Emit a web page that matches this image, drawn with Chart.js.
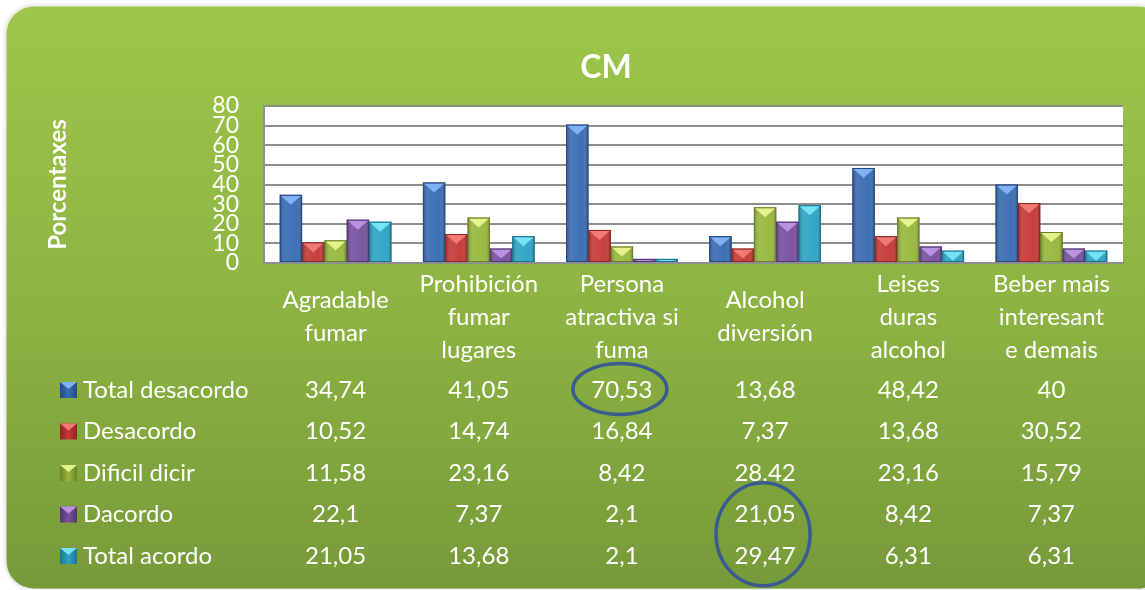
<!DOCTYPE html>
<html lang="gl">
<head>
<meta charset="UTF-8"/>
<title>CM</title>
<script src="https://cdn.jsdelivr.net/npm/chart.js"></script>
<style>
 html,body{margin:0;padding:0;background:#fff}
 #wrap{width:1145px;height:590px;position:relative}
</style>
</head>
<body>
<div id="wrap"><canvas id="chart"></canvas></div>

<script>
const categories=[['Agradable','fumar'],['Prohibición','fumar','lugares'],['Persona','atractiva si','fuma'],['Alcohol','diversión'],['Leises','duras','alcohol'],['Beber mais','interesant','e demais']];
const seriesNames=['Total desacordo','Desacordo','Dificil dicir','Dacordo','Total acordo'];
const totalDesacordo=[34.74,41.05,70.53,13.68,48.42,40];
const desacordo=[10.52,14.74,16.84,7.37,13.68,30.52];
const dificilDicir=[11.58,23.16,8.42,28.42,23.16,15.79];
const dacordo=[22.1,7.37,2.1,21.05,8.42,7.37];
const totalAcordo=[21.05,13.68,2.1,29.47,6.31,6.31];
const yMin=0, yMax=80, yStep=10;
// cells the source table writes with a dot instead of a comma [row,col]
const dotCells=[[2,3]];
// circled cells in the table: [firstRow,lastRow,col]
const circles=[[0,0,2],[3,4,3]];

const seriesValues=[totalDesacordo,desacordo,dificilDicir,dacordo,totalAcordo];
const colors=['#3b6db3','#c63b38','#98b83f','#77539d','#2ea5c4'];
const tops=['#7fb2f2','#f27a74','#e4f48a','#b993e2','#74e3f5'];
const darks=['#24497f','#8e2523','#6a8228','#4f3570','#1b7590'];

const FONT='Lato, "Open Sans", sans-serif';
const ROW0=390, ROWH=41.5;

const cardPlugin={
  id:'card',
  beforeDraw(chart){
    const c=chart.ctx, a=chart.chartArea;
    c.save();
    const g=c.createLinearGradient(0,6,0,590);
    g.addColorStop(0,'#9dc64a');
    g.addColorStop(0.5,'#8db443');
    g.addColorStop(1,'#769a39');
    c.shadowColor='rgba(0,0,0,0.25)';
    c.shadowBlur=4;
    c.beginPath();
    c.roundRect(6,6,1160,583,28);
    c.fillStyle=g;
    c.fill();
    c.shadowColor='transparent';
    c.strokeStyle='rgba(255,255,255,0.5)';
    c.lineWidth=1.5;
    c.stroke();
    c.fillStyle='#fff';
    c.fillRect(a.left,a.top,a.right-a.left,a.bottom-a.top);
    c.restore();
  },
  afterDatasetsDraw(chart){
    const c=chart.ctx;
    c.save();
    chart.data.datasets.forEach((ds,di)=>{
      chart.getDatasetMeta(di).data.forEach(bar=>{
        const w=bar.width, l=bar.x-w/2, t=bar.y, b=bar.base;
        const g=c.createLinearGradient(l,0,l+w,0);
        g.addColorStop(0,'rgba(0,0,0,0.25)');
        g.addColorStop(0.25,'rgba(255,255,255,0.08)');
        g.addColorStop(0.75,'rgba(255,255,255,0.02)');
        g.addColorStop(1,'rgba(0,0,0,0.3)');
        c.fillStyle=g;
        c.fillRect(l,t,w,b-t);
        const h=Math.min(w*0.45,b-t);
        c.beginPath();
        c.moveTo(l+1,t+1);c.lineTo(l+w-1,t+1);c.lineTo(bar.x,t+h);c.closePath();
        c.fillStyle=tops[di];
        c.fill();
        c.strokeStyle=darks[di];
        c.lineWidth=1;
        c.strokeRect(l+0.5,t+0.5,w-1,b-t-1);
      });
    });
    c.restore();
  },
  afterDraw(chart){
    const c=chart.ctx, x=chart.scales.x;
    c.save();
    c.fillStyle='#fff';
    // chart title
    c.font='bold 32px '+FONT;
    c.textAlign='center';c.textBaseline='middle';
    c.fillText('CM',606,68);
    // category labels
    c.font='24px '+FONT;
    categories.forEach((lines,i)=>{
      const px=x.getPixelForValue(i);
      const y0=317-(lines.length-1)*33/2;
      lines.forEach((s,k)=>c.fillText(s,px,y0+k*33));
    });
    // data table
    seriesNames.forEach((name,r)=>{
      const y=ROW0+r*ROWH;
      const kg=c.createLinearGradient(60,0,77,0);
      kg.addColorStop(0,darks[r]);kg.addColorStop(0.5,colors[r]);kg.addColorStop(1,darks[r]);
      c.fillStyle=kg;
      c.fillRect(60,y-8,17,16);
      c.beginPath();c.moveTo(60,y-8);c.lineTo(77,y-8);c.lineTo(68.5,y-1);c.closePath();
      c.fillStyle=tops[r];c.fill();
      c.fillStyle='#fff';
      c.textAlign='left';
      c.fillText(name,83,y);
      c.textAlign='center';
      seriesValues[r].forEach((v,i)=>{
        let s=String(v);
        if(!dotCells.some(d=>d[0]===r&&d[1]===i)) s=s.replace('.',',');
        c.fillText(s,x.getPixelForValue(i),y);
      });
    });
    // circles
    c.strokeStyle='#3a5b8f';
    c.lineWidth=3.5;
    circles.forEach(([r0,r1,col])=>{
      const cx=x.getPixelForValue(col)-2;
      const cy=(ROW0+r0*ROWH+ROW0+r1*ROWH)/2-1;
      const rx=47, ry=r0===r1?25.5:51.5;
      c.beginPath();c.ellipse(cx,cy,rx,ry,0,0,Math.PI*2);c.stroke();
    });
    c.restore();
  }
};

new Chart(document.getElementById('chart'),{
  type:'bar',
  data:{
    labels:categories.map(l=>l.join(' ')),
    datasets:seriesNames.map((n,i)=>({
      label:n,data:seriesValues[i],backgroundColor:colors[i],
      categoryPercentage:0.78,barPercentage:1
    }))
  },
  options:{
    responsive:true,maintainAspectRatio:false,animation:false,
    layout:{padding:{left:44,right:22,top:106,bottom:0}},
    plugins:{legend:{display:false},tooltip:{enabled:false},title:{display:false}},
    scales:{
      x:{
        ticks:{display:false},
        grid:{display:false},
        border:{display:true,color:'#8e8e8e',width:2},
        afterFit(s){s.height=590-263;}
      },
      y:{
        min:yMin,max:yMax,
        ticks:{stepSize:yStep,autoSkip:false,padding:25,color:'#fff',font:{family:FONT,size:23}},
        grid:{color:'#8e8e8e',lineWidth:2,drawTicks:false},
        border:{color:'#8e8e8e',width:2},
        title:{display:true,text:'Porcentaxes',color:'#fff',font:{family:FONT,size:24,weight:'bold'},padding:0},
        afterFit(s){s.width=264-44;}
      }
    }
  },
  plugins:[cardPlugin]
});
</script>
</body>
</html>
